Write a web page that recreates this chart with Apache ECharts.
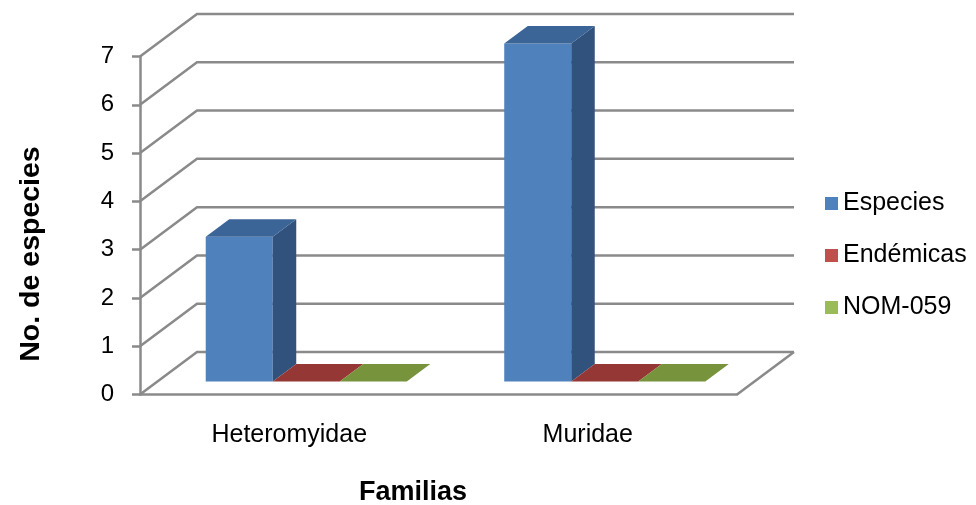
<!DOCTYPE html>
<html>
<head>
<meta charset="utf-8">
<title>No. de especies por familia</title>
<script src="https://cdn.jsdelivr.net/npm/echarts@6/dist/echarts.min.js"></script>
<style>
  html, body { margin: 0; padding: 0; background: #ffffff; }
  #chart { width: 976px; height: 505px; }
</style>
</head>
<body>
<div id="chart"></div>
<script>
// Data
const categories = ['Heteromyidae', 'Muridae'];
const seriesNames = ['Especies', 'Endémicas', 'NOM-059'];
const especies = [3, 7];
const endemicas = [0, 0];
const nom059 = [0, 0];
const yTicks = [0, 1, 2, 3, 4, 5, 6, 7];

// 3D look: depth of the floor / walls and of the bars (pixels)
const WALL_DEPTH = [57, -42.5];
const BAR_FRONT = [17, -13];
const BAR_DEPTH = [23.5, -17.5];
const BAR_FRAC = 0.2245;
const GRID_COLOR = '#8a8a8a';
const FONT = "'Liberation Sans', Arial, sans-serif";

const faceColors = [
  { front: '#4F81BD', side: '#30527D', top: '#3C6597', legend: '#4F81BD' },
  { front: '#C0504D', side: '#7F2F2D', top: '#953735', legend: '#C0504D' },
  { front: '#9BBB59', side: '#5E7632', top: '#77933C', legend: '#9BBB59' }
];

const chart = echarts.init(document.getElementById('chart'), null, { renderer: 'canvas' });

// Back wall, left wall and floor
function frameRenderer(params, api) {
  const cs = params.coordSys;
  const L = cs.x, R = cs.x + cs.width;
  const dx = WALL_DEPTH[0], dy = WALL_DEPTH[1];
  const style = { stroke: GRID_COLOR, lineWidth: 2.5, fill: null };
  const children = [];
  yTicks.forEach(function (v) {
    const y = api.coord([0, v])[1];
    children.push({ type: 'polyline', shape: { points: [[L, y], [L + dx, y + dy], [R + dx, y + dy]] }, style: style });
  });
  const y0 = api.coord([0, 0])[1];
  children.push({ type: 'line', shape: { x1: R, y1: y0, x2: R + dx, y2: y0 + dy }, style: style });
  return { type: 'group', children: children };
}

function barRenderer(k) {
  const c = faceColors[k];
  return function (params, api) {
    const cat = api.value(0), v = api.value(1);
    const top = api.coord([cat, v]);
    const base = api.coord([cat, 0]);
    const bw = api.size([1, 0])[0] * BAR_FRAC;
    const x0 = top[0] - 1.5 * bw + k * bw + BAR_FRONT[0];
    const x1 = x0 + bw;
    const yT = top[1] + BAR_FRONT[1];
    const yB = base[1] + BAR_FRONT[1];
    const dx = BAR_DEPTH[0], dy = BAR_DEPTH[1];
    const children = [];
    if (yB - yT > 0.5) {
      children.push({ type: 'rect', shape: { x: x0, y: yT, width: bw, height: yB - yT }, style: { fill: c.front } });
      children.push({ type: 'polygon', shape: { points: [[x1, yT], [x1 + dx, yT + dy], [x1 + dx, yB + dy], [x1, yB]] }, style: { fill: c.side } });
    }
    children.push({ type: 'polygon', shape: { points: [[x0, yT], [x1, yT], [x1 + dx, yT + dy], [x0 + dx, yT + dy]] }, style: { fill: c.top } });
    return { type: 'group', children: children };
  };
}

const values = [especies, endemicas, nom059];

const barSeries = values.map(function (arr, k) {
  return {
    type: 'custom',
    name: seriesNames[k],
    renderItem: barRenderer(k),
    data: arr.map(function (v, i) { return [i, v]; }),
    encode: { x: 0, y: 1 },
    itemStyle: { color: faceColors[k].legend },
    clip: false,
    z: 3
  };
});

const option = {
  animation: false,
  backgroundColor: '#ffffff',
  textStyle: { fontFamily: FONT },
  grid: { left: 140, right: 239, top: 56.5, bottom: 110.5 },
  legend: {
    orient: 'vertical',
    left: 820,
    top: 186,
    icon: 'rect',
    itemWidth: 13,
    itemHeight: 13,
    itemGap: 27,
    data: seriesNames,
    textStyle: { fontSize: 25, color: '#000000', fontFamily: FONT },
    selectedMode: false
  },
  xAxis: {
    type: 'category',
    data: categories,
    boundaryGap: true,
    axisLine: { show: true, lineStyle: { color: GRID_COLOR, width: 2.5 } },
    axisTick: { show: false },
    axisLabel: { fontSize: 25, color: '#000000', margin: 28, fontFamily: FONT },
    splitLine: { show: false }
  },
  yAxis: {
    type: 'value',
    min: 0,
    max: 7,
    interval: 1,
    axisLine: { show: true, lineStyle: { color: GRID_COLOR, width: 2.5 } },
    axisTick: { show: true, length: 8, lineStyle: { color: GRID_COLOR, width: 2.5 } },
    axisLabel: { fontSize: 24, color: '#000000', margin: 26, fontFamily: FONT },
    splitLine: { show: false }
  },
  graphic: [
    {
      type: 'text',
      x: 31, y: 254,
      rotation: Math.PI / 2,
      style: { text: 'No. de especies', font: "bold 28.5px 'Liberation Sans', Arial, sans-serif", fill: '#000000', align: 'center', verticalAlign: 'middle' }
    },
    {
      type: 'text',
      x: 413, y: 493,
      style: { text: 'Familias', font: "bold 27px 'Liberation Sans', Arial, sans-serif", fill: '#000000', align: 'center', verticalAlign: 'middle' }
    }
  ],
  series: [
    {
      type: 'custom',
      name: 'frame',
      renderItem: frameRenderer,
      data: [[0, 0]],
      encode: { x: 0, y: 1 },
      clip: false,
      silent: true,
      z: 1
    }
  ].concat(barSeries)
};

chart.setOption(option);
</script>
</body>
</html>
